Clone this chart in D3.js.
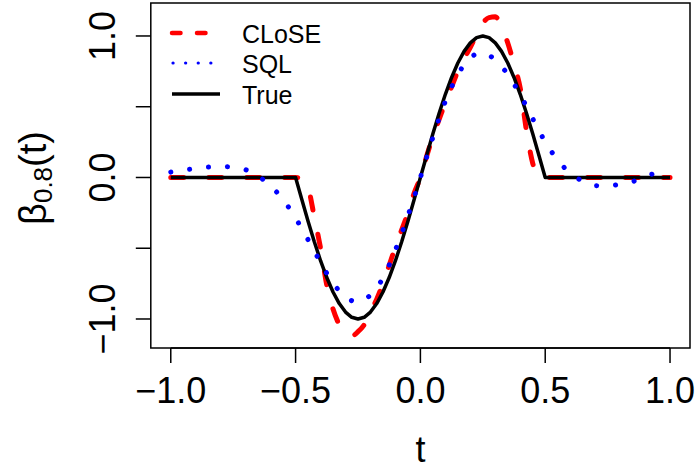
<!DOCTYPE html>
<html>
<head>
<meta charset="utf-8">
<script src="https://cdn.jsdelivr.net/npm/d3@7"></script>
<style>
  body { margin: 0; background: #fff; }
  text { font-family: "Liberation Sans", Arial, sans-serif; fill: #000; }
</style>
</head>
<body>
<svg></svg>
<script>
// grid of t used for the true curve and CLoSE estimate
var tFine = [-1, -0.5, -0.475, -0.45, -0.425, -0.4, -0.375, -0.35, -0.325, -0.3, -0.275,
  -0.25, -0.225, -0.2, -0.175, -0.15, -0.125, -0.1, -0.075, -0.05, -0.025, 0,
  0.025, 0.05, 0.075, 0.1, 0.125, 0.15, 0.175, 0.2, 0.225, 0.25, 0.275, 0.3,
  0.325, 0.35, 0.375, 0.4, 0.425, 0.45, 0.475, 0.5, 1];

var trueVals = [0, 0, -0.156, -0.309, -0.454, -0.588, -0.707, -0.809, -0.891, -0.951, -0.988,
  -1, -0.988, -0.951, -0.891, -0.809, -0.707, -0.588, -0.454, -0.309, -0.156, 0,
  0.156, 0.309, 0.454, 0.588, 0.707, 0.809, 0.891, 0.951, 0.988, 1, 0.988, 0.951,
  0.891, 0.809, 0.707, 0.588, 0.454, 0.309, 0.156, 0, 0];

var closeVals = [0, 0, -0.01, -0.07, -0.28, -0.5, -0.76, -0.93, -1.04, -1.1, -1.12,
  -1.09, -1.04, -0.95, -0.86, -0.75, -0.62, -0.49, -0.37, -0.25, -0.11, 0,
  0.15, 0.29, 0.41, 0.53, 0.64, 0.75, 0.84, 0.92, 1.01, 1.09, 1.13, 1.135,
  1.07, 0.95, 0.8, 0.63, 0.33, 0.1, 0, 0, 0];

// coarser grid for SQL
var tCoarse = [-1, -0.95, -0.9, -0.85, -0.8, -0.75, -0.7, -0.65, -0.6, -0.55, -0.5,
  -0.45, -0.4, -0.35, -0.3, -0.25, -0.2, -0.15, -0.1, -0.05, 0,
  0.05, 0.1, 0.15, 0.2, 0.25, 0.3, 0.35, 0.4, 0.45, 0.5,
  0.55, 0.6, 0.65, 0.7, 0.75, 0.8, 0.85, 0.9, 0.95, 1];

var sqlVals = [0.038, 0.052, 0.064, 0.074, 0.078, 0.072, 0.055, 0.01, -0.06, -0.156, -0.287,
  -0.44, -0.6, -0.746, -0.845, -0.88, -0.83, -0.71, -0.511, -0.27, 0,
  0.283, 0.538, 0.725, 0.85, 0.88, 0.83, 0.728, 0.584, 0.415, 0.252,
  0.123, 0.031, -0.026, -0.057, -0.06, -0.047, -0.029, 0.007, 0.035, 0.057];

var xTicks = [-1, -0.5, 0, 0.5, 1],
    yTicks = [-1, -0.5, 0, 0.5, 1],
    yLabelled = [-1, 0, 1];

var legendNames = ["CLoSE", "SQL", "True"];

var width = 695,
    height = 470,
    plotL = 150.8, plotR = 690, plotT = 3, plotB = 348;

var svg = d3.select("svg")
    .attr("width", width)
    .attr("height", height);

var x = d3.scaleLinear().domain([-1.08, 1.08]).range([plotL, plotR]);
var y = d3.scaleLinear().domain([-1.205, 1.233]).range([plotB, plotT]);

var fmt = d => d.toFixed(1).replace("-", "\u2212");

function zip(ts, vs) {
    return ts.map((t, i) => [t, vs[i]]);
}

var lineLinear = d3.line().x(d => x(d[0])).y(d => y(d[1]));
var lineSmooth = d3.line().x(d => x(d[0])).y(d => y(d[1])).curve(d3.curveMonotoneX);

// curves: CLoSE under True, SQL on top
svg.append("path")
    .attr("d", lineSmooth(zip(tFine, closeVals)))
    .attr("fill", "none")
    .attr("stroke", "#ff0000")
    .attr("stroke-width", 5)
    .attr("stroke-linecap", "round")
    .attr("stroke-dasharray", "13,25");

svg.append("path")
    .attr("d", lineLinear(zip(tFine, trueVals)))
    .attr("fill", "none")
    .attr("stroke", "#000")
    .attr("stroke-width", 3.5)
    .attr("stroke-linejoin", "round");

svg.append("path")
    .attr("d", lineSmooth(zip(tCoarse, sqlVals)))
    .attr("fill", "none")
    .attr("stroke", "#0000ff")
    .attr("stroke-width", 5)
    .attr("stroke-linecap", "round")
    .attr("stroke-dasharray", "0.1,18.9");

// box
svg.append("rect")
    .attr("x", plotL).attr("y", plotT)
    .attr("width", plotR - plotL).attr("height", plotB - plotT)
    .attr("fill", "none")
    .attr("stroke", "#000")
    .attr("stroke-width", 1.5);

// x axis
var xAxis = svg.append("g");
xAxis.append("line")
    .attr("x1", x(xTicks[0])).attr("x2", x(xTicks[xTicks.length - 1]))
    .attr("y1", plotB).attr("y2", plotB)
    .attr("stroke", "#000").attr("stroke-width", 1.5);
xAxis.selectAll(".tick")
    .data(xTicks)
    .enter().append("line")
    .attr("x1", d => x(d)).attr("x2", d => x(d))
    .attr("y1", plotB).attr("y2", plotB + 15)
    .attr("stroke", "#000").attr("stroke-width", 1.5);
xAxis.selectAll("text")
    .data(xTicks)
    .enter().append("text")
    .attr("x", d => x(d))
    .attr("y", 403)
    .attr("text-anchor", "middle")
    .attr("font-size", 36)
    .text(fmt);

// y axis
var yAxis = svg.append("g");
yAxis.selectAll(".tick")
    .data(yTicks)
    .enter().append("line")
    .attr("x1", plotL - 15).attr("x2", plotL)
    .attr("y1", d => y(d)).attr("y2", d => y(d))
    .attr("stroke", "#000").attr("stroke-width", 1.5);
yAxis.selectAll("text")
    .data(yLabelled)
    .enter().append("text")
    .attr("transform", d => "translate(" + [115, y(d)] + ") rotate(-90)")
    .attr("text-anchor", "middle")
    .attr("font-size", 36)
    .text(fmt);

// axis titles
svg.append("text")
    .attr("x", x(0))
    .attr("y", 462)
    .attr("text-anchor", "middle")
    .attr("font-size", 36)
    .text("t");

var yTitle = svg.append("text")
    .attr("transform", "translate(" + [46, 178] + ") rotate(-90)")
    .attr("text-anchor", "middle")
    .attr("font-size", 38);
yTitle.append("tspan").text("\u03b2");
yTitle.append("tspan").attr("font-size", 26).attr("dy", 6).text("0.8");
yTitle.append("tspan").attr("dy", -6).text("(t)");

// legend (no box)
var legendY = [33, 63, 94];
var legend = svg.append("g");
legend.append("line")
    .attr("x1", 172).attr("x2", 220)
    .attr("y1", legendY[0]).attr("y2", legendY[0])
    .attr("stroke", "#ff0000").attr("stroke-width", 4.5)
    .attr("stroke-linecap", "round")
    .attr("stroke-dasharray", "8.5,16.5");
legend.append("line")
    .attr("x1", 173).attr("x2", 220)
    .attr("y1", legendY[1]).attr("y2", legendY[1])
    .attr("stroke", "#0000ff").attr("stroke-width", 3.2)
    .attr("stroke-linecap", "round")
    .attr("stroke-dasharray", "0.1,12.5");
legend.append("line")
    .attr("x1", 172).attr("x2", 220)
    .attr("y1", legendY[2]).attr("y2", legendY[2])
    .attr("stroke", "#000").attr("stroke-width", 3.3);
legend.selectAll("text")
    .data(legendNames)
    .enter().append("text")
    .attr("x", 242)
    .attr("y", (d, i) => legendY[i] + 9.5)
    .attr("font-size", 25)
    .text(d => d);
</script>
</body>
</html>
